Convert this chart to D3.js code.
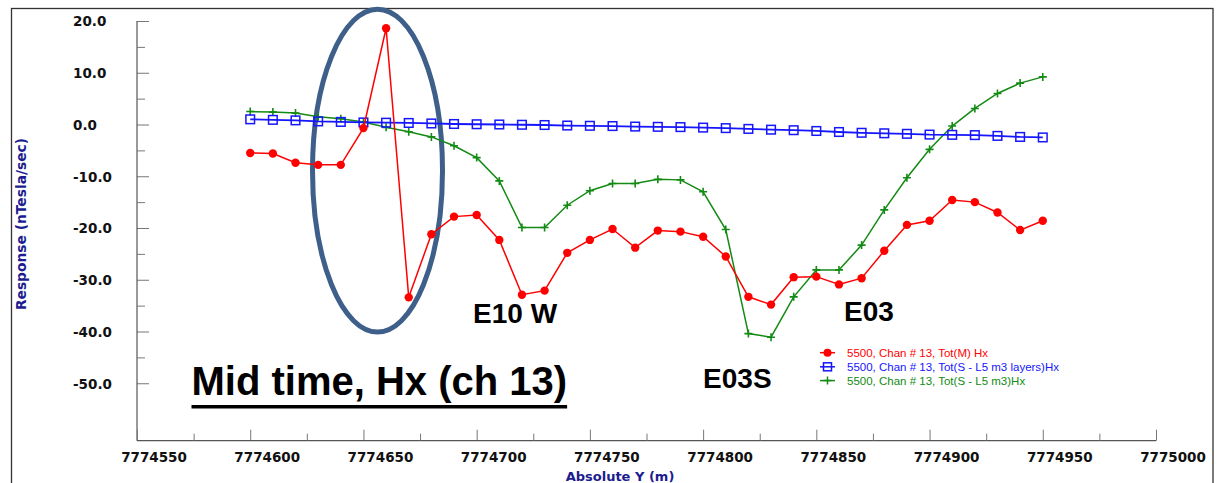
<!DOCTYPE html>
<html><head><meta charset="utf-8">
<script src="https://cdn.jsdelivr.net/npm/d3@7"></script>
<style>body{margin:0;background:#fff;} svg{display:block;}</style>
</head><body>
<svg id="c" width="1220" height="483"></svg>
<script>
// ---- data ----
const stations = [7774600,7774610,7774620,7774630,7774640,7774650,7774660,7774670,7774680,7774690,
  7774700,7774710,7774720,7774730,7774740,7774750,7774760,7774770,7774780,7774790,
  7774800,7774810,7774820,7774830,7774840,7774850,7774860,7774870,7774880,7774890,
  7774900,7774910,7774920,7774930,7774940,7774950];
const totM = [-5.5,-5.6,-7.4,-7.8,-7.8,-0.7,18.6,-33.4,-21.2,-17.8,
  -17.5,-22.3,-32.9,-32.1,-24.8,-22.3,-20.2,-23.8,-20.5,-20.7,
  -21.7,-25.5,-33.3,-34.8,-29.5,-29.4,-30.9,-29.7,-24.4,-19.4,
  -18.6,-14.6,-15.0,-17.0,-20.4,-18.6];
const totSLayers = [1.0,0.9,0.8,0.6,0.5,0.4,0.35,0.3,0.2,0.1,
  0.05,0.0,-0.05,-0.1,-0.2,-0.25,-0.3,-0.4,-0.45,-0.5,
  -0.6,-0.7,-0.85,-1.0,-1.1,-1.25,-1.45,-1.6,-1.7,-1.8,
  -1.95,-2.0,-2.05,-2.2,-2.4,-2.5];
const totS = [2.5,2.4,2.2,1.5,1.1,0.5,-0.55,-1.4,-2.4,-4.1,
  -6.4,-10.9,-19.9,-19.9,-15.6,-12.8,-11.4,-11.4,-10.6,-10.7,
  -13.0,-20.3,-40.4,-41.1,-33.3,-28.1,-28.1,-23.3,-16.5,-10.3,
  -4.8,-0.3,3.1,6.0,8.0,9.2];
const seriesNames = ["5500, Chan # 13, Tot(M) Hx","5500, Chan # 13, Tot(S - L5 m3 layers)Hx","5500, Chan # 13, Tot(S - L5 m3)Hx"];
const xMajorTicks = [7774550,7774600,7774650,7774700,7774750,7774800,7774850,7774900,7774950,7775000];
const xMinorTicks = [7774575,7774625,7774675,7774725,7774775,7774825,7774875,7774925,7774975];
const yMajorTicks = [20,10,0,-10,-20,-30,-40,-50];
const yMinorTicks = [15,5,-5,-15,-25,-35,-45];
const annotations = [{t:"E10 W",x:7774698.4,v:-38.4},{t:"E03",x:7774862.2,v:-37.9},{t:"E03S",x:7774800,v:-50.9}];
const titleText = "Mid time, Hx (ch 13)";

// ---- layout ----
const svg = d3.select("#c");
const X0 = 137, X1 = 1156, Y0 = 440.7, Y1 = 21;
const x = d3.scaleLinear().domain([7774550,7775000]).range([X0,X1]);
const y = d3.scaleLinear().domain([-61.1,20]).range([Y0,Y1]);

// outer frame
svg.append("rect").attr("x",11.5).attr("y",8.5).attr("width",1201.5).attr("height",490)
  .attr("fill","none").attr("stroke","#333").attr("stroke-width",1.3);

// ellipse annotation (under data)
svg.append("ellipse").attr("cx",377.5).attr("cy",170.6).attr("rx",65).attr("ry",161.4)
  .attr("fill","none").attr("stroke","#3e5f8a").attr("stroke-width",5);

// ---- axes ----
const gy = svg.append("g").attr("transform",`translate(${X0},0)`);
gy.call(d3.axisLeft(y).tickValues(yMajorTicks).tickSize(-12).tickSizeOuter(0).tickFormat(d=>d.toFixed(1)));
gy.select(".domain").remove();
gy.append("line").attr("x1",0).attr("x2",0).attr("y1",Y1).attr("y2",Y0).attr("stroke","#555").attr("stroke-width",1.2);
gy.selectAll(".tick line").attr("stroke","#777");
gy.selectAll(".tick text").attr("x",-64).attr("dy","0.36em").attr("text-anchor","start")
  .attr("font-family","DejaVu Sans").attr("font-weight","bold").attr("font-size",13.5).attr("fill","#111");
const gym = svg.append("g").attr("transform",`translate(${X0},0)`);
gym.call(d3.axisLeft(y).tickValues(yMinorTicks).tickSize(-8).tickSizeOuter(0).tickFormat(""));
gym.select(".domain").remove();
gym.selectAll(".tick line").attr("stroke","#777");

const gx = svg.append("g").attr("transform",`translate(0,${Y0})`);
gx.call(d3.axisBottom(x).tickValues(xMajorTicks).tickSize(-11).tickSizeOuter(0).tickFormat(d3.format("d")));
gx.select(".domain").remove();
gx.append("line").attr("x1",X0).attr("x2",X1).attr("y1",0).attr("y2",0).attr("stroke","#555").attr("stroke-width",1.2);
gx.selectAll(".tick line").attr("stroke","#777");
gx.selectAll(".tick text").attr("x",16.5).attr("y",21.3).attr("dy",0)
  .attr("font-family","DejaVu Sans").attr("font-weight","bold").attr("font-size",13.5).attr("fill","#111");
const gxm = svg.append("g").attr("transform",`translate(0,${Y0})`);
gxm.call(d3.axisBottom(x).tickValues(xMinorTicks).tickSize(-7).tickSizeOuter(0).tickFormat(""));
gxm.select(".domain").remove();
gxm.selectAll(".tick line").attr("stroke","#777");

// axis titles
svg.append("text").attr("transform","translate(25.5,224) rotate(-90)").attr("text-anchor","middle")
  .attr("font-family","DejaVu Sans").attr("font-weight","bold").attr("font-size",13.8).attr("fill","#1c1c8f")
  .text("Response (nTesla/sec)");
svg.append("text").attr("x",620).attr("y",481).attr("text-anchor","middle")
  .attr("font-family","DejaVu Sans").attr("font-weight","bold").attr("font-size",13).attr("fill","#1c1c8f")
  .text("Absolute Y (m)");

// ---- series ----
const colors = ["#ff0000","#1515ff","#138a13"];
const seriesVals = [totM, totSLayers, totS];
const line = d3.line().x((d,i)=>x(stations[i])).y(d=>y(d));
[2,1,0].forEach(s=>{
  const g = svg.append("g");
  g.append("path").datum(seriesVals[s]).attr("d",line).attr("fill","none")
    .attr("stroke",colors[s]).attr("stroke-width",s===1?1.8:1.5);
  const pts = g.selectAll("g.p").data(seriesVals[s]).join("g")
    .attr("transform",(d,i)=>`translate(${x(stations[i])},${y(d)})`);
  if(s===0){ pts.append("circle").attr("r",4.2).attr("fill",colors[0]); }
  if(s===1){ pts.append("rect").attr("x",-4.3).attr("y",-4.3).attr("width",8.6).attr("height",8.6)
      .attr("fill","none").attr("stroke",colors[1]).attr("stroke-width",1.5); }
  if(s===2){ pts.append("path").attr("d","M-4,0H4M0,-4V4").attr("stroke",colors[2]).attr("stroke-width",1.6); }
});

// ---- legend ----
const legY = [352.7,366.8,380.6];
const lg = svg.append("g");
legY.forEach((ly,s)=>{
  lg.append("line").attr("x1",820).attr("x2",835).attr("y1",ly).attr("y2",ly).attr("stroke",colors[s]).attr("stroke-width",1.5);
  if(s===0) lg.append("circle").attr("cx",827.5).attr("cy",ly).attr("r",4).attr("fill",colors[0]);
  if(s===1) lg.append("rect").attr("x",823.5).attr("y",ly-4).attr("width",8).attr("height",8).attr("fill","none").attr("stroke",colors[1]).attr("stroke-width",1.5);
  if(s===2) lg.append("path").attr("d",`M823.5,${ly}H831.5M827.5,${ly-4}V${ly+4}`).attr("stroke",colors[2]).attr("stroke-width",1.5);
  lg.append("text").attr("x",847).attr("y",ly+4).attr("font-family","Liberation Sans").attr("font-size",11.5)
    .attr("fill",colors[s]).text(seriesNames[s]);
});

// ---- annotations ----
annotations.forEach(a=>{
  svg.append("text").attr("x",x(a.x)).attr("y",y(a.v)).attr("font-family","Liberation Sans")
    .attr("font-weight","bold").attr("font-size",28).attr("fill","#000").text(a.t);
});
const tt = svg.append("text").attr("x",191.5).attr("y",395).attr("font-family","Liberation Sans")
  .attr("font-weight","bold").attr("font-size",40).attr("fill","#000").text(titleText);
const bb = tt.node().getBBox();
svg.append("rect").attr("x",bb.x).attr("y",405).attr("width",bb.width).attr("height",3.5).attr("fill","#000");
</script>
</body></html>
